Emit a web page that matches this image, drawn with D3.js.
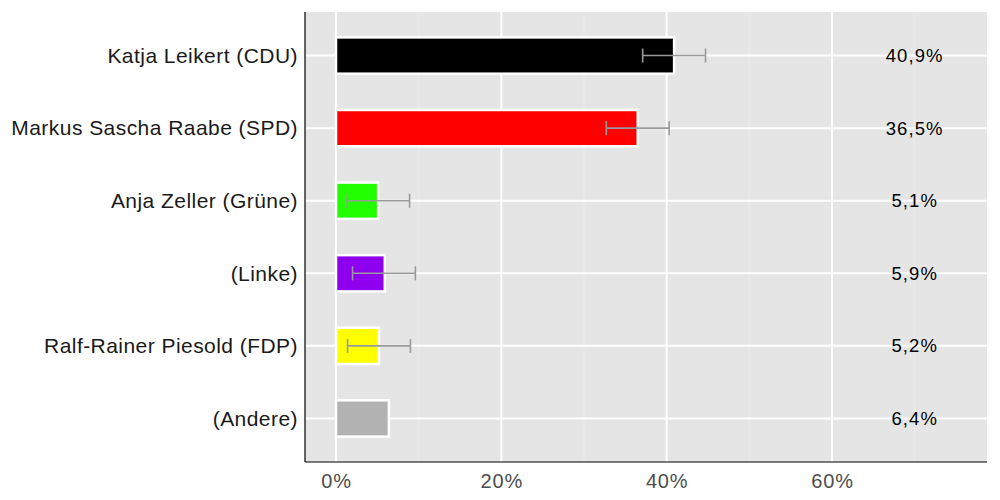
<!DOCTYPE html>
<html>
<head>
<meta charset="utf-8">
<script src="https://cdn.jsdelivr.net/npm/d3@7"></script>
<style>
  body { margin: 0; background: #fff; }
  text { font-family: "Liberation Sans", Arial, sans-serif; }
</style>
</head>
<body>
<svg id="chart" width="1000" height="500"></svg>
<script>
// values
var candidates = ["Katja Leikert (CDU)", "Markus Sascha Raabe (SPD)", "Anja Zeller (Grüne)", "(Linke)", "Ralf-Rainer Piesold (FDP)", "(Andere)"];
var shares = [40.9, 36.5, 5.1, 5.9, 5.2, 6.4];
var lows = [37.1, 32.7, 1.35, 2.0, 1.4, null];
var highs = [44.7, 40.3, 8.9, 9.6, 9.0, null];
var partyColors = ["#000000", "#ff0000", "#22ff00", "#8f00ee", "#ffff00", "#b2b2b2"];
var majorTicks = [0, 20, 40, 60];
var minorTicks = [10, 30, 50, 70];

var svg = d3.select("#chart");
// note: "top" is taken by window.top, so plot edges get their own names
var pLeft = 305, pRight = 987, pTop = 12, pBottom = 462;

var x = d3.scaleLinear().domain([-3.75, 78.75]).range([pLeft, pRight]);
var y = d3.scalePoint().domain(candidates).range([pTop, pBottom]).padding(0.6);
var barH = y.step() * 0.5;

// panel
svg.append("rect")
  .attr("x", pLeft).attr("y", pTop)
  .attr("width", pRight - pLeft).attr("height", pBottom - pTop)
  .attr("fill", "#e5e5e5");

svg.selectAll(".minor")
  .data(minorTicks).enter().append("line")
  .attr("x1", d => x(d)).attr("x2", d => x(d))
  .attr("y1", pTop).attr("y2", pBottom)
  .attr("stroke", "#ebebeb").attr("stroke-width", 1);

svg.selectAll(".major")
  .data(majorTicks).enter().append("line")
  .attr("x1", d => x(d)).attr("x2", d => x(d))
  .attr("y1", pTop).attr("y2", pBottom)
  .attr("stroke", "#fff").attr("stroke-width", 2);

svg.selectAll(".hgrid")
  .data(candidates).enter().append("line")
  .attr("x1", pLeft).attr("x2", pRight)
  .attr("y1", d => y(d)).attr("y2", d => y(d))
  .attr("stroke", "#fff").attr("stroke-width", 2);

// bars
svg.selectAll(".bar")
  .data(candidates).enter().append("rect")
  .attr("x", x(0))
  .attr("y", d => y(d) - barH / 2)
  .attr("width", (d, i) => x(shares[i]) - x(0))
  .attr("height", barH)
  .attr("fill", (d, i) => partyColors[i])
  .attr("stroke", "#fff").attr("stroke-width", 2.5);

// error bars
candidates.forEach(function(c, i) {
  if (lows[i] == null) return;
  var g = svg.append("g").attr("stroke", "#999").attr("stroke-width", 1.6);
  var cy = y(c);
  g.append("line").attr("x1", x(lows[i])).attr("x2", x(highs[i])).attr("y1", cy).attr("y2", cy);
  g.append("line").attr("x1", x(lows[i])).attr("x2", x(lows[i])).attr("y1", cy - 7).attr("y2", cy + 7);
  g.append("line").attr("x1", x(highs[i])).attr("x2", x(highs[i])).attr("y1", cy - 7).attr("y2", cy + 7);
});

// value labels
svg.selectAll(".val")
  .data(candidates).enter().append("text")
  .attr("x", x(70))
  .attr("y", d => y(d))
  .attr("dy", "0.35em")
  .attr("text-anchor", "middle")
  .attr("font-size", 18.5)
  .attr("letter-spacing", 1.1)
  .attr("fill", "#000")
  .text((d, i) => d3.format(".1f")(shares[i]).replace(".", ",") + "%");

// axes
var xAxis = svg.append("g")
  .attr("transform", "translate(0," + pBottom + ")")
  .call(d3.axisBottom(x).tickValues(majorTicks).tickSize(0).tickPadding(12).tickFormat(d => d + "%"));
xAxis.select(".domain").remove();
xAxis.selectAll("text").attr("font-size", 20).attr("letter-spacing", 0.8)
  .attr("fill", "#4d4d4d").attr("font-family", "Liberation Sans, Arial, sans-serif");

var yAxis = svg.append("g")
  .attr("transform", "translate(" + pLeft + ",0)")
  .call(d3.axisLeft(y).tickSize(0).tickPadding(7));
yAxis.select(".domain").remove();
yAxis.selectAll("text").attr("font-size", 21).attr("letter-spacing", 0.45)
  .attr("fill", "#1a1a1a").attr("font-family", "Liberation Sans, Arial, sans-serif");

svg.append("line").attr("x1", pLeft).attr("x2", pLeft).attr("y1", pTop).attr("y2", pBottom)
  .attr("stroke", "#000").attr("stroke-width", 1.2);
svg.append("line").attr("x1", pLeft).attr("x2", pRight).attr("y1", pBottom).attr("y2", pBottom)
  .attr("stroke", "#000").attr("stroke-width", 1.2);
</script>
</body>
</html>
